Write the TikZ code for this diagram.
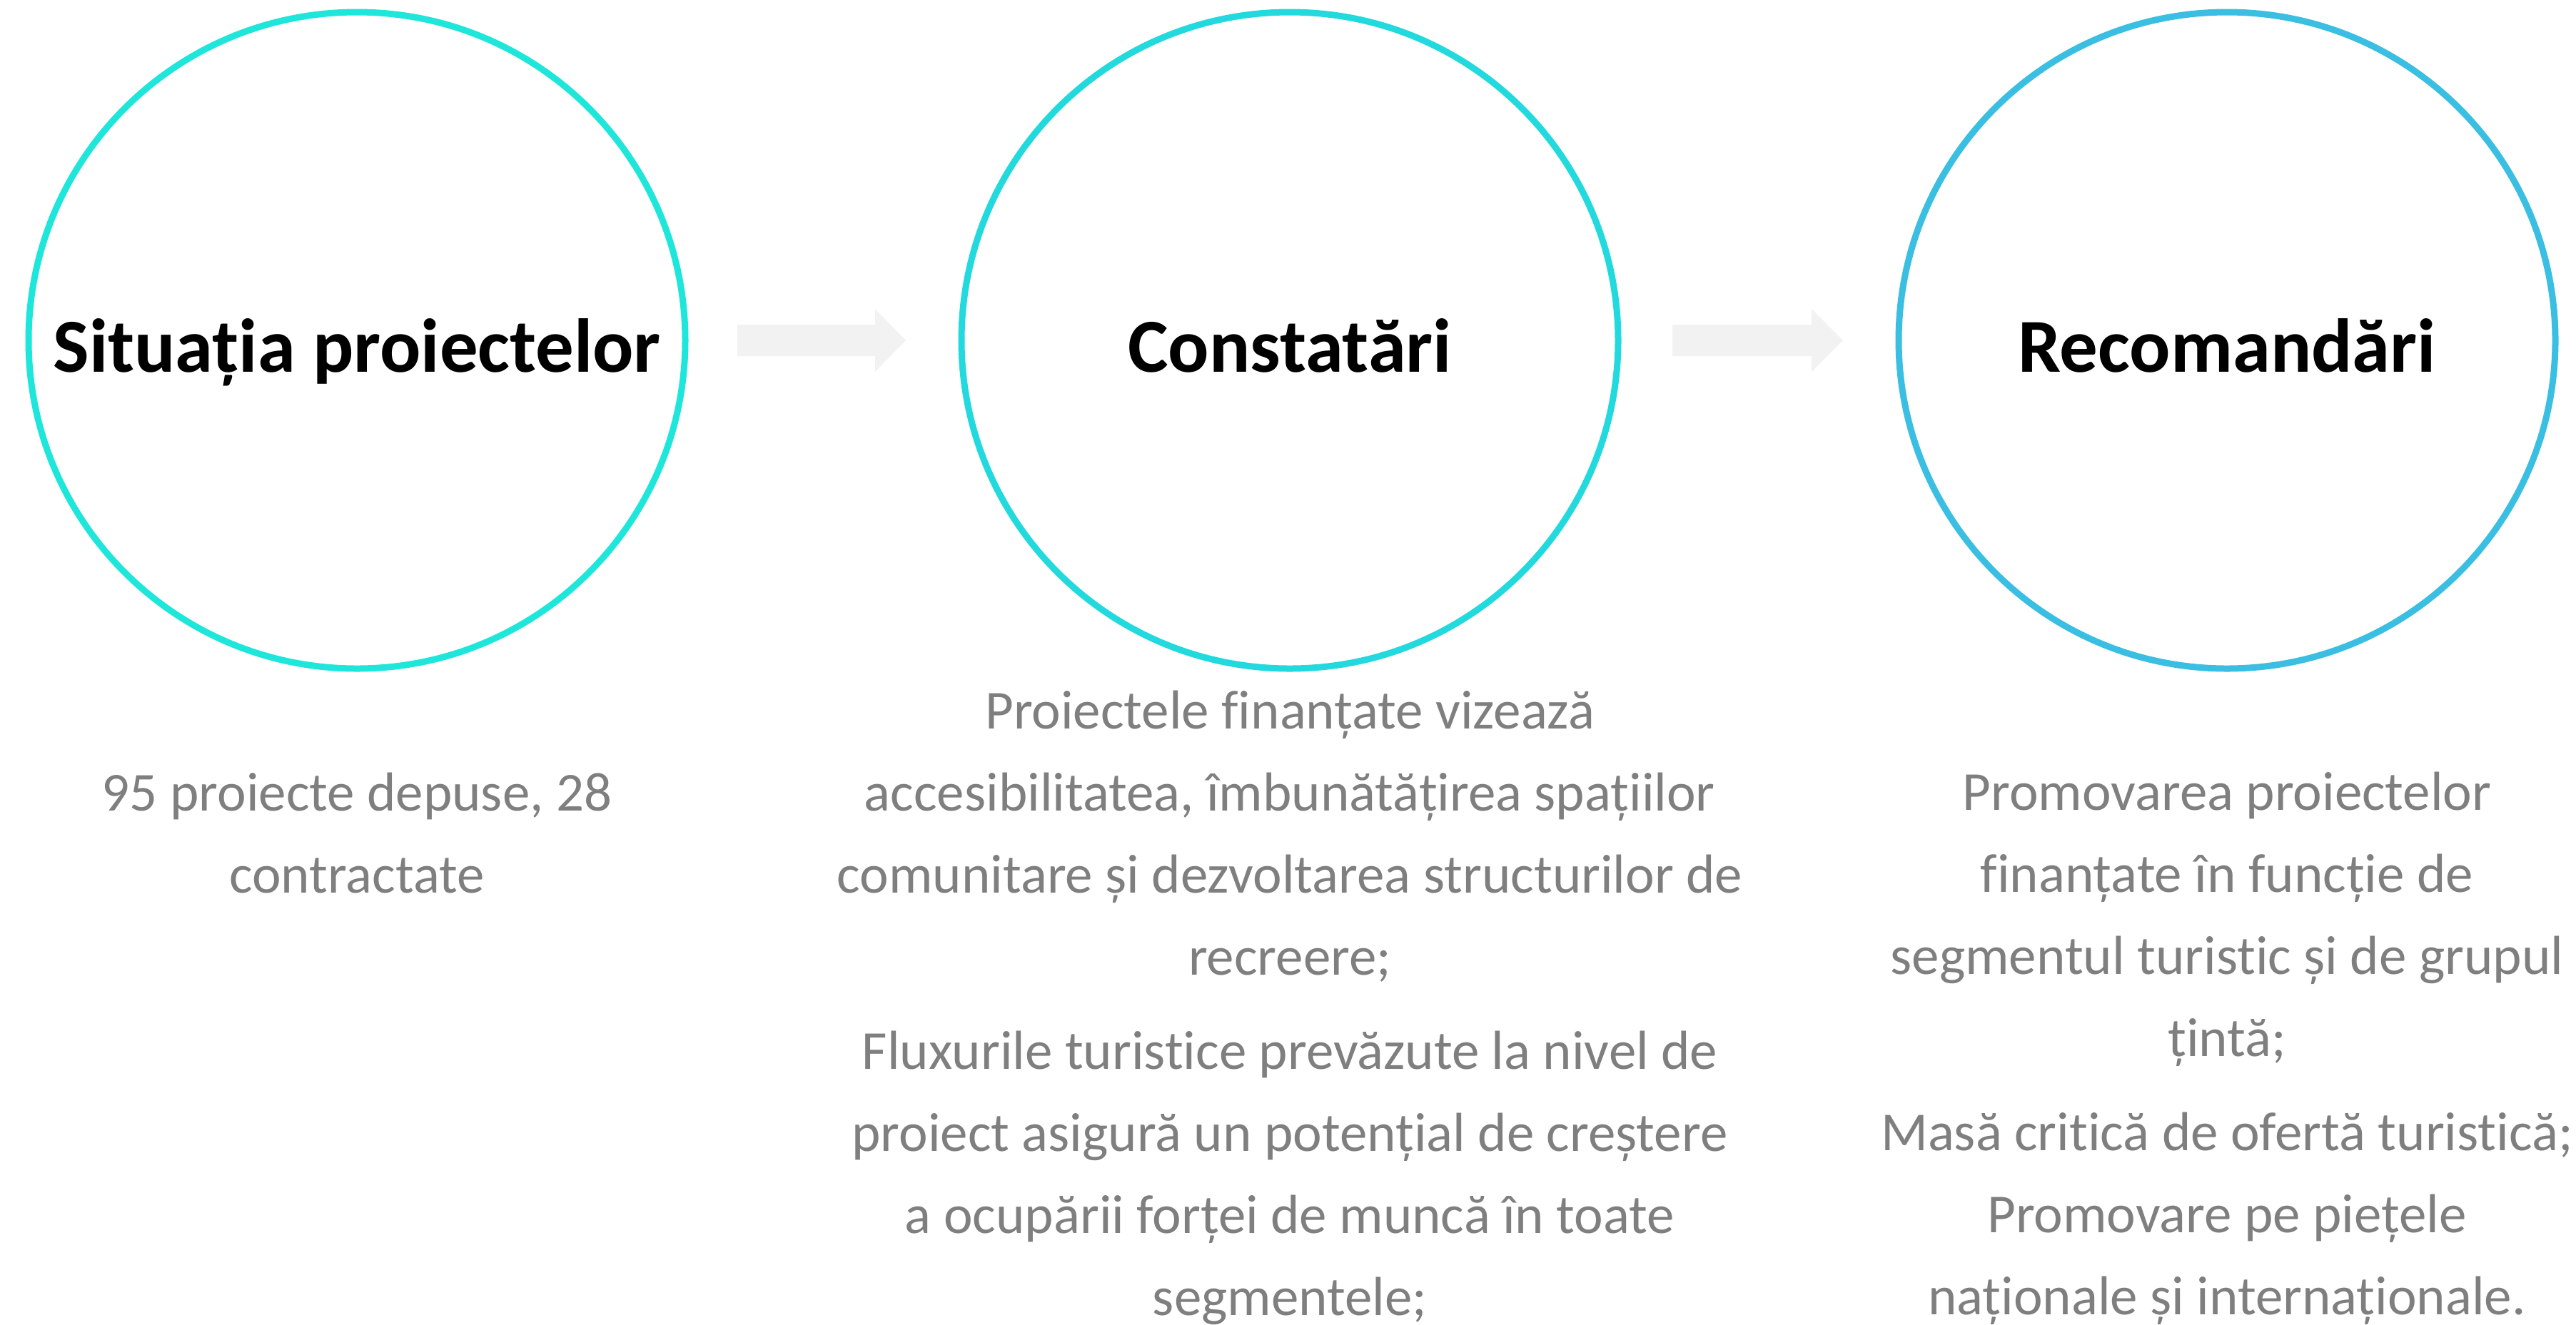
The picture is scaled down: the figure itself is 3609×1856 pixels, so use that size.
\documentclass[tikz,border=0pt]{standalone}
\usepackage{fontspec}
\setmainfont{Carlito}[Ligatures=NoCommon]
\definecolor{cleft}{HTML}{1FE6DA}
\definecolor{cmid}{HTML}{22D9DD}
\definecolor{cright}{HTML}{3ABEE2}
\definecolor{txtgray}{HTML}{7F7F7F}
\definecolor{arrowgray}{HTML}{F2F2F2}
\begin{document}
\begin{tikzpicture}[x=0.01cm,y=-0.01cm,
  ring/.style={circle, line width=9*0.01cm, minimum size=920*0.01cm, inner sep=0pt},
  title/.style={font=\fontsize{30.4pt}{36pt}\selectfont\bfseries, text=black, inner sep=0pt, anchor=base},
  body/.style={font=\fontsize{21.9pt}{32.7pt}\selectfont, text=txtgray, inner sep=0pt, anchor=base},
  blockarrow/.style={fill=arrowgray, draw=none}]
\useasboundingbox (0,0) rectangle (3609,1856);
% circles
\node[ring, draw=cleft] (c1) at (500,477) {};
\node[ring, draw=cmid] (c2) at (1807,477) {};
\node[ring, draw=cright] (c3) at (3120,477) {};
% titles
\node[title] (t1) at (500,521) {Situația proiectelor};
\node[title] (t2) at (1807,521) {Constatări};
\node[title] (t3) at (3120,521) {Recomandări};
% block arrows
\fill[blockarrow] (1033,455) -- (1226,455) -- (1226,433) -- (1269,477) -- (1226,521) -- (1226,499) -- (1033,499) -- cycle;
\fill[blockarrow] (2343,455) -- (2538,455) -- (2538,433) -- (2582,477) -- (2538,521) -- (2538,499) -- (2343,499) -- cycle;
% left text
\node[body] (l1) at (500,1136) {95 proiecte depuse, 28};
\node[body] (l2) at (500,1251) {contractate};
% middle text
\node[body] (m1) at (1807,1021) {Proiectele finanțate vizează};
\node[body] (m2) at (1807,1136) {accesibilitatea, îmbunătățirea spațiilor};
\node[body] (m3) at (1807,1251) {comunitare și dezvoltarea structurilor de};
\node[body] (m4) at (1807,1366) {recreere;};
\node[body] (m5) at (1807,1498) {Fluxurile turistice prevăzute la nivel de};
\node[body] (m6) at (1807,1613) {proiect asigură un potențial de creștere};
\node[body] (m7) at (1807,1728) {a ocupării forței de muncă în toate};
\node[body] (m8) at (1807,1843) {segmentele;};
% right text
\node[body] (r1) at (3120,1135) {Promovarea proiectelor};
\node[body] (r2) at (3120,1250) {finanțate în funcție de};
\node[body] (r3) at (3120,1365) {segmentul turistic și de grupul};
\node[body] (r4) at (3120,1480) {țintă;};
\node[body] (r5) at (3120,1612) {Masă critică de ofertă turistică;};
\node[body] (r6) at (3120,1727) {Promovare pe piețele};
\node[body] (r7) at (3120,1842) {naționale și internaționale.};
\end{tikzpicture}
\end{document}
